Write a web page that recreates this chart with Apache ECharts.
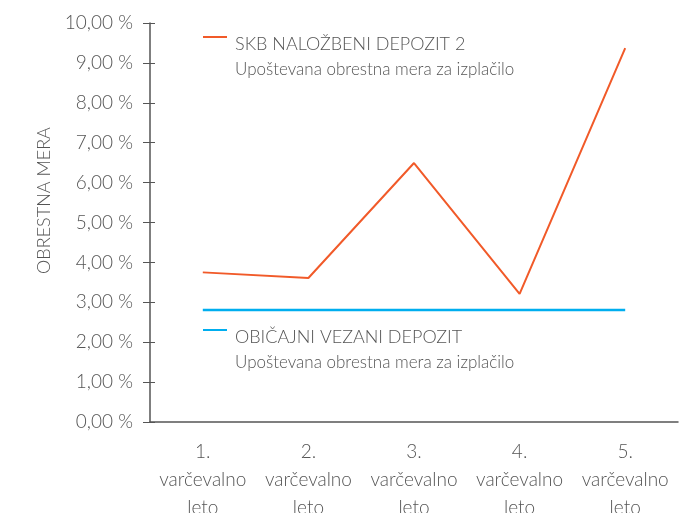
<!DOCTYPE html>
<html>
<head>
<meta charset="utf-8">
<script src="https://cdn.jsdelivr.net/npm/echarts@6/dist/echarts.min.js"></script>
<style>
  html, body { margin: 0; padding: 0; background: #fff; }
  #chart { width: 680px; height: 513px; }
</style>
</head>
<body>
<div id="chart"></div>
<script>
var years = ['1.\nvarčevalno\nleto', '2.\nvarčevalno\nleto', '3.\nvarčevalno\nleto', '4.\nvarčevalno\nleto', '5.\nvarčevalno\nleto'];
var skbRates = [3.75, 3.61, 6.49, 3.21, 9.37];
var obicajniRates = [2.81, 2.81, 2.81, 2.81, 2.81];
var yTicks = [0, 1, 2, 3, 4, 5, 6, 7, 8, 9, 10];
var subLabel = 'Upoštevana obrestna mera za izplačilo';

var txt = '#555';
var fam = 'Lato, "Open Sans", sans-serif';

var myChart = echarts.init(document.getElementById('chart'));

// narrow bar icon, padded so it sits level with the first text line
var barIcon = 'path://M0,0H0.01V0.01H0Z M0,4H24V6H0Z M0,50H0.01V49.99H0Z';

function legendText(name) {
    return '{t|' + name + '}\n{s|' + subLabel + '}';
}

var legendRich = {
    t: { fontFamily: fam, fontWeight: 300, fontSize: 18, color: txt, lineHeight: 25 },
    s: { fontFamily: fam, fontWeight: 300, fontSize: 17, color: txt, lineHeight: 25 }
};

option = {
    animation: false,
    grid: { left: 150, right: 2, top: 23, bottom: 91, outerBoundsMode: 'none' },
    legend: [{
        data: [{ name: 'SKB NALOŽBENI DEPOZIT 2', icon: barIcon }],
        left: 203, top: 32, padding: 0,
        itemWidth: 24, itemHeight: 50,
        itemStyle: { borderWidth: 0 },
        formatter: legendText,
        textStyle: { rich: legendRich, padding: [0, 0, 0, 3] }
    }, {
        data: [{ name: 'OBIČAJNI VEZANI DEPOZIT', icon: barIcon }],
        left: 203, top: 325, padding: 0,
        itemWidth: 24, itemHeight: 50,
        itemStyle: { borderWidth: 0 },
        formatter: legendText,
        textStyle: { rich: legendRich, padding: [0, 0, 0, 3] }
    }],
    xAxis: [{
        type: 'category',
        data: years,
        boundaryGap: true,
        axisLine: { lineStyle: { color: txt, width: 1.5 } },
        axisTick: { length: 6, lineStyle: { color: txt, width: 1 } },
        axisLabel: {
            margin: 16, color: txt, fontFamily: fam, fontWeight: 300,
            fontSize: 19, lineHeight: 28, interval: 0
        }
    }, {
        // second copy for the part of the ticks above the axis
        type: 'category',
        data: years,
        position: 'bottom',
        boundaryGap: true,
        axisLine: { show: false },
        axisTick: { inside: true, length: 7, lineStyle: { color: txt, width: 1 } },
        axisLabel: { show: false }
    }],
    yAxis: [{
        type: 'value',
        min: 0, max: 10, interval: 1,
        name: 'OBRESTNA MERA',
        nameLocation: 'middle',
        nameGap: 97,
        nameTextStyle: {
            color: txt, fontFamily: fam, fontWeight: 300, fontSize: 18,
            padding: [0, 0, 0, 44]
        },
        splitLine: { show: false },
        axisLine: { show: true, lineStyle: { color: txt, width: 1.5 } },
        axisTick: { show: true, length: 7, lineStyle: { color: txt, width: 1 } },
        axisLabel: {
            margin: 17, color: txt, fontFamily: fam, fontWeight: 300, fontSize: 19,
            formatter: function(v) { return v.toFixed(2).replace('.', ',') + ' %'; }
        }
    }, {
        type: 'value',
        min: 0, max: 10, interval: 1,
        position: 'left',
        splitLine: { show: false },
        axisLine: { show: false },
        axisTick: { show: true, inside: true, length: 5, lineStyle: { color: txt, width: 1 } },
        axisLabel: { show: false }
    }],
    series: [{
        name: 'SKB NALOŽBENI DEPOZIT 2',
        type: 'line',
        data: skbRates,
        symbol: 'none',
        color: '#f15a29',
        lineStyle: { color: '#f15a29', width: 2 }
    }, {
        name: 'OBIČAJNI VEZANI DEPOZIT',
        type: 'line',
        data: obicajniRates,
        symbol: 'none',
        color: '#00aeef',
        lineStyle: { color: '#00aeef', width: 2.5 }
    }]
};

option && myChart.setOption(option);
</script>
</body>
</html>
